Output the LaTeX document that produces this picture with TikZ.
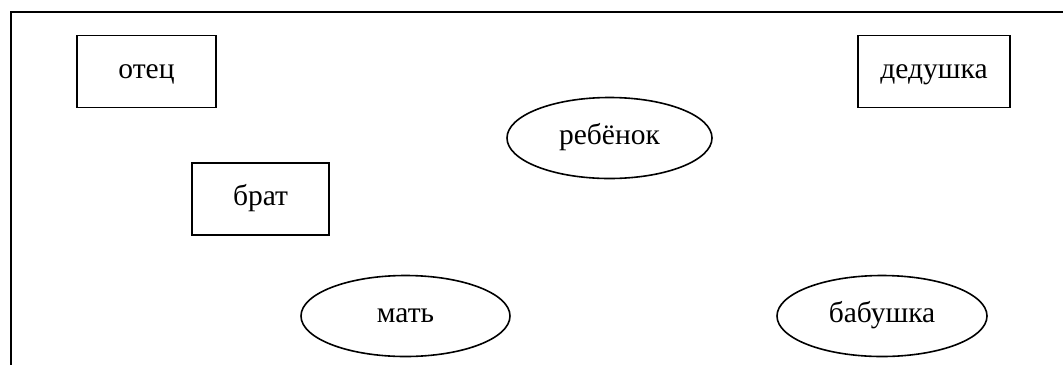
\documentclass[tikz,border=0pt]{standalone}
\usepackage{fontspec}
\setmainfont{Liberation Serif}
\usetikzlibrary{shapes,shapes.geometric,calc,positioning}

\begin{document}
\begin{tikzpicture}[x=1pt, y=-1pt,
    person/.style={draw, line width=1.6pt, minimum height=72pt, inner sep=0pt,
      text height=21pt, text depth=7.5pt, font=\fontsize{29.5}{34}\selectfont},
    kin/.style={draw, ellipse, line width=1.6pt, minimum height=81pt, minimum width=207pt,
      inner sep=0pt, text height=21pt, text depth=7.5pt,
      font=\fontsize{29.5}{34}\selectfont}]
    \useasboundingbox (0,0) rectangle (1063,365);
    % frame
    \draw [line width=2.6pt] (1063,12) -- (11,12) -- (11,365);
    \node [person, minimum width=139pt]  (father)  at (146.5,71.5) {отец};
    \node [person, minimum width=152pt]  (grandpa) at (934,71.5)   {дедушка};
    \node [person, minimum width=137pt]  (brother) at (260.5,199)  {брат};
    \node [kin, minimum width=205pt]     (child)   at (609.5,138)  {ребёнок};
    \node [kin, minimum width=209pt]     (mother)  at (405.5,316)  {мать};
    \node [kin, minimum width=210pt]     (grandma) at (882,316)    {бабушка};
  \end{tikzpicture}
\end{document}
